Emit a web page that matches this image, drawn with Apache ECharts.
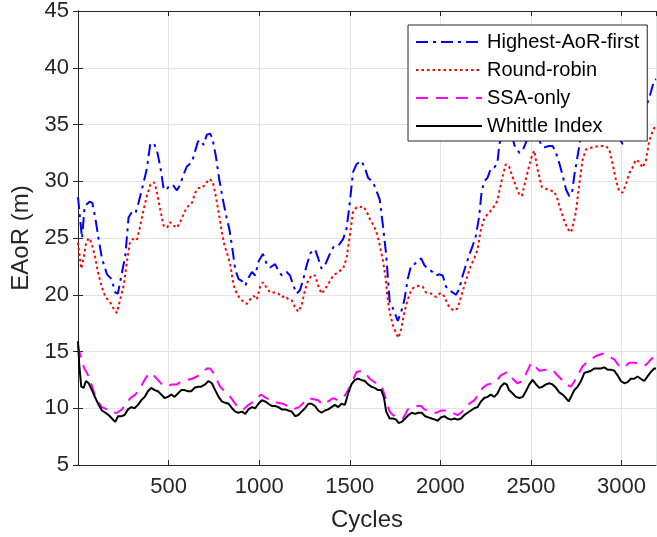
<!DOCTYPE html>
<html>
<head>
<meta charset="utf-8">
<script src="https://cdn.jsdelivr.net/npm/echarts@6/dist/echarts.min.js"></script>
<style>
html,body{margin:0;padding:0;background:#fff;}
#chart{width:657px;height:537px;}
</style>
</head>
<body>
<div id="chart"></div>
<script>
// Highest-AoR-first (blue, dash-dot)
var haorX = [0,22,37,64,79,95,114,132,160,184,206,220,243,261,279,294,316,334,353,380,398,417,436,454,472,485,509,527,546,564,583,601,629,647,662,680,693,711,730,743,761,779,803,820,835,850,868,886,905,923,941,960,978,996,1020,1042,1060,1088,1106,1125,1152,1170,1189,1207,1225,1244,1262,1284,1308,1326,1344,1363,1387,1409,1436,1463,1482,1500,1518,1537,1564,1583,1601,1628,1646,1665,1683,1701,1720,1738,1765,1784,1802,1820,1839,1857,1875,1894,1912,1930,1958,1976,1995,2013,2031,2049,2068,2086,2104,2123,2141,2159,2178,2196,2214,2227,2242,2260,2278,2297,2315,2324,2340,2365,2390,2408,2436,2454,2472,2495,2525,2555,2574,2601,2620,2638,2656,2675,2693,2711,2726,2739,2757,2770,2790,2830,2880,2920,2950,2980,3005,3024,3050,3080,3106,3125,3152,3180,3190];
var haorY = [28.6,25.0,27.8,28.2,28.1,26.8,24.9,23.2,21.8,21.4,20.2,20.1,22.0,23.4,26.8,27.2,27.1,28.1,29.3,31.1,33.2,33.4,32.7,31.3,29.4,29.2,29.7,29.6,29.2,29.7,30.6,31.3,31.7,32.7,33.5,33.6,33.2,34.1,34.2,33.7,32.2,30.2,28.1,26.8,25.8,24.3,22.2,21.4,21.2,20.8,21.5,22.0,21.7,22.9,23.6,22.7,22.4,22.7,22.1,21.7,22.0,21.7,20.8,20.1,20.4,21.4,22.6,23.7,24.0,23.2,22.3,22.6,23.5,24.2,24.3,24.9,25.8,28.1,30.8,31.5,31.8,31.2,30.3,29.9,29.2,28.4,26.1,23.5,19.4,18.8,17.7,18.5,19.6,21.4,22.6,22.7,23.0,23.2,22.6,22.3,22.0,21.7,21.8,21.7,20.7,20.4,20.2,20.0,20.5,21.7,22.6,23.5,24.3,25.2,26.9,29.0,30.0,30.3,31.1,31.2,31.6,33.1,34.2,35.0,34.5,33.2,32.5,32.7,33.4,34.6,34.8,33.2,33.0,33.1,33.1,32.5,31.6,30.5,29.3,28.7,28.9,30.5,32.2,33.4,35.3,36.4,36.8,36.6,35.5,34.0,33.3,33.4,34.5,35.5,35.2,36.2,37.3,38.9,39.0];

// Round-robin (red, dotted)
var rrX = [0,18,31,44,59,74,92,110,129,151,169,187,202,215,233,252,270,285,301,325,344,362,380,399,421,436,454,472,491,509,527,546,564,583,601,629,647,665,684,702,724,743,757,776,794,809,822,841,859,877,896,914,932,951,969,987,1005,1020,1038,1060,1088,1106,1125,1143,1161,1180,1198,1216,1234,1253,1271,1289,1308,1326,1344,1363,1387,1409,1436,1463,1482,1500,1518,1537,1555,1573,1592,1610,1628,1646,1665,1683,1698,1707,1720,1738,1756,1769,1784,1802,1820,1839,1857,1885,1903,1921,1949,1976,1995,2013,2031,2049,2073,2095,2114,2132,2150,2169,2187,2205,2224,2242,2260,2278,2297,2315,2324,2343,2361,2379,2398,2416,2434,2450,2472,2500,2518,2537,2560,2601,2629,2647,2665,2684,2702,2721,2730,2748,2767,2785,2803,2840,2877,2914,2932,2950,2969,2987,3005,3024,3042,3060,3079,3097,3115,3134,3152,3171,3190];
var rrY = [24.6,22.3,23.2,24.5,25.0,24.6,23.5,22.0,20.8,19.8,19.5,19.1,18.6,18.4,19.6,20.8,22.9,24.5,24.9,24.8,26.1,27.5,28.7,29.7,29.9,29.0,27.5,26.1,25.9,26.4,26.1,25.9,26.4,27.1,27.7,28.1,29.0,29.4,29.4,29.7,30.2,30.0,29.0,27.3,25.5,24.3,23.7,22.6,20.8,20.1,19.6,19.4,19.2,19.6,19.9,19.6,20.7,21.1,20.7,20.2,20.2,20.1,19.8,19.9,19.6,19.5,18.9,18.5,19.1,20.4,21.3,21.7,21.7,20.8,20.1,20.5,21.1,21.7,22.0,22.3,23.2,25.2,27.3,27.7,27.7,27.8,27.4,26.7,26.2,25.6,24.4,23.0,21.5,19.9,18.5,17.3,16.6,16.2,17.0,18.5,19.6,20.4,20.7,20.8,20.7,20.2,20.1,19.8,20.1,20.1,19.5,18.9,18.6,18.8,19.8,20.8,21.7,22.6,23.2,24.0,25.8,26.7,27.1,27.4,27.8,28.3,29.0,30.4,31.5,31.3,30.4,29.6,28.9,28.7,30.2,32.0,32.7,31.0,29.5,29.2,29.1,28.4,27.4,26.5,25.8,25.5,26.0,27.3,29.8,31.9,32.8,33.0,33.1,33.1,32.8,31.6,30.1,29.1,29.0,29.7,30.7,31.2,31.9,31.7,31.2,31.8,33.5,34.4,35.0];

// SSA-only (magenta, dashed)
var ssaX = [0,20,35,50,68,86,105,132,160,187,215,243,261,289,316,344,371,393,417,441,463,491,518,546,573,601,629,656,684,711,730,748,766,785,803,830,850,880,914,941,970,996,1009,1040,1079,1097,1130,1170,1189,1220,1253,1271,1300,1326,1350,1380,1409,1436,1465,1491,1509,1537,1564,1590,1610,1628,1646,1675,1695,1720,1738,1765,1793,1811,1820,1850,1875,1894,1912,1945,1976,2004,2013,2040,2068,2095,2114,2135,2159,2187,2210,2233,2260,2290,2315,2333,2370,2385,2399,2425,2454,2472,2495,2509,2528,2546,2583,2619,2640,2665,2693,2721,2748,2785,2812,2858,2895,2923,2960,2987,3015,3042,3079,3106,3134,3162,3190];
var ssaY = [15.5,14.2,13.5,13.1,12.4,11.5,10.7,10.1,9.9,9.6,9.6,9.9,10.3,10.9,11.2,11.8,12.6,13.1,12.9,12.5,12.1,11.9,12.1,12.1,12.4,12.5,12.6,12.8,13.1,13.5,13.5,13.1,12.5,11.9,11.6,11.2,10.8,10.1,9.9,10.3,10.6,11.0,11.2,10.9,10.6,10.5,10.4,10.1,9.9,10.1,10.6,10.9,10.8,10.7,10.3,10.6,10.9,10.7,10.9,11.6,12.2,13.2,13.3,13.0,12.6,12.4,12.2,12.0,11.0,9.7,9.4,9.2,9.1,9.6,9.9,10.1,10.2,10.2,9.9,9.7,9.6,9.8,9.9,9.8,9.6,9.4,9.6,10.0,10.4,10.7,11.2,11.8,12.1,12.2,12.5,12.9,13.2,12.9,12.6,12.2,12.4,13.0,13.8,14.0,13.6,13.3,13.4,13.4,13.0,12.6,12.1,11.9,12.6,13.7,14.1,14.6,14.8,14.6,14.3,13.7,13.6,14.0,14.0,13.8,13.8,14.3,14.7];

// Whittle Index (black, solid)
var wiX = [0,7,18,31,44,59,77,96,114,132,151,169,187,206,221,239,257,276,294,312,331,349,368,386,404,423,441,460,478,496,515,533,551,570,588,607,625,643,662,680,702,720,739,757,776,794,809,831,850,868,886,905,923,941,960,978,996,1015,1033,1051,1070,1088,1106,1125,1143,1161,1180,1198,1216,1234,1253,1271,1289,1308,1326,1344,1363,1381,1399,1418,1436,1454,1473,1491,1509,1528,1546,1564,1583,1601,1619,1637,1656,1674,1689,1701,1720,1738,1756,1769,1787,1806,1824,1842,1861,1879,1897,1916,1934,1952,1971,1985,2004,2022,2040,2059,2077,2095,2114,2132,2150,2169,2187,2205,2224,2242,2260,2278,2297,2315,2333,2352,2366,2379,2399,2417,2436,2454,2472,2491,2509,2528,2546,2564,2583,2601,2619,2638,2656,2675,2693,2708,2721,2739,2757,2776,2794,2812,2831,2849,2868,2886,2904,2923,2941,2960,2978,2996,3015,3033,3051,3070,3088,3106,3125,3143,3162,3180,3190];
var wiY = [15.9,13.8,11.9,11.8,12.4,12.2,11.6,10.9,10.3,9.8,9.6,9.4,9.1,8.8,9.3,9.3,9.4,9.9,10.1,10.0,10.3,10.7,11.0,11.5,11.8,11.6,11.5,11.2,10.9,11.0,11.2,11.0,11.3,11.6,11.6,11.5,11.5,11.8,11.9,11.9,12.1,12.4,12.2,11.6,11.0,10.6,10.5,10.4,10.0,9.7,9.6,9.7,9.5,9.9,10.1,10.0,10.4,10.7,10.6,10.4,10.2,10.2,10.1,9.9,9.9,9.8,9.7,9.3,9.4,9.7,10.0,10.4,10.4,10.2,9.8,9.6,9.8,9.9,10.1,10.3,10.1,10.4,10.3,11.3,12.1,12.5,12.6,12.5,12.4,12.1,11.9,11.8,11.6,11.6,10.9,9.7,9.1,9.1,9.0,8.7,8.8,9.1,9.4,9.6,9.5,9.6,9.6,9.3,9.2,9.1,9.0,8.9,9.2,9.3,9.1,9.0,9.1,9.0,9.1,9.4,9.6,9.8,10.0,10.1,10.6,10.9,11.0,11.2,11.0,11.3,11.9,12.2,12.1,11.6,11.3,11.0,10.9,11.0,11.5,12.1,12.5,12.1,11.8,11.9,12.1,12.2,12.1,11.8,11.4,11.2,10.9,10.6,11.0,11.6,11.9,12.4,13.1,13.2,13.3,13.5,13.5,13.5,13.6,13.4,13.4,13.3,12.9,12.4,12.2,12.3,12.6,12.6,12.8,12.6,12.4,12.8,13.2,13.5,13.5];

var seriesNames = ['Highest-AoR-first', 'Round-robin', 'SSA-only', 'Whittle Index'];
var yTicks = [5, 45, 5]; // min, max, step
var xRange = [0, 3190, 500];

function pairs(xs, ys) {
    var out = [];
    for (var i = 0; i < xs.length; i++) out.push([xs[i], ys[i]]);
    return out;
}

var axisColor = '#262626';
var gridColor = '#e3e3e3';
var fontFam = '"Liberation Sans", Arial, sans-serif';

var myChart = echarts.init(document.getElementById('chart'));

var option = {
    animation: false,
    backgroundColor: '#fff',
    textStyle: {fontFamily: fontFam},
    grid: {left: 78, right: 1, top: 8, bottom: 72},
    legend: {
        orient: 'vertical',
        left: 408,
        top: 25,
        padding: [7, 8, 5, 7],
        itemWidth: 66,
        itemHeight: 14,
        itemGap: 8,
        borderColor: axisColor,
        borderWidth: 1,
        backgroundColor: '#fff',
        itemStyle: {opacity: 0},   // hide the circle, keep the line sample
        textStyle: {color: '#000', fontSize: 20, fontFamily: fontFam},
        data: seriesNames
    },
    xAxis: [{
        type: 'value',
        min: xRange[0], max: xRange[1], interval: xRange[2],
        name: 'Cycles',
        nameLocation: 'middle',
        nameGap: 43,
        nameTextStyle: {color: axisColor, fontSize: 24},
        axisLine: {lineStyle: {color: axisColor, width: 1}},
        axisTick: {inside: true, length: 5, lineStyle: {color: axisColor}},
        axisLabel: {color: axisColor, fontSize: 22, margin: 11, showMinLabel: false, showMaxLabel: false,
            formatter: function (v) { return String(v); }},
        splitLine: {show: true, lineStyle: {color: gridColor, width: 1}}
    }, {
        type: 'value', position: 'top',
        min: xRange[0], max: xRange[1], interval: xRange[2],
        axisLine: {show: true, lineStyle: {color: axisColor, width: 1}},
        axisTick: {inside: true, length: 5, lineStyle: {color: axisColor}},
        axisLabel: {show: false},
        splitLine: {show: false}
    }],
    yAxis: [{
        type: 'value',
        min: yTicks[0], max: yTicks[1], interval: yTicks[2],
        name: 'EAoR (m)',
        nameLocation: 'middle',
        nameGap: 37,
        nameTextStyle: {color: axisColor, fontSize: 24},
        axisLine: {show: true, lineStyle: {color: axisColor, width: 1}},
        axisTick: {show: true, inside: true, length: 5, lineStyle: {color: axisColor}},
        axisLabel: {color: axisColor, fontSize: 22, margin: 9},
        splitLine: {show: true, lineStyle: {color: gridColor, width: 1}}
    }, {
        type: 'value', position: 'right',
        min: yTicks[0], max: yTicks[1], interval: yTicks[2],
        axisLine: {show: true, lineStyle: {color: axisColor, width: 1}},
        axisTick: {show: true, inside: true, length: 5, lineStyle: {color: axisColor}},
        axisLabel: {show: false},
        splitLine: {show: false}
    }],
    series: [{
        name: seriesNames[0], type: 'line', symbol: 'none',
        lineStyle: {color: '#0000ff', width: 2, type: [12, 5, 3, 5]},
        itemStyle: {color: '#0000ff'},
        data: pairs(haorX, haorY)
    }, {
        name: seriesNames[1], type: 'line', symbol: 'none',
        lineStyle: {color: '#ff0000', width: 2, type: [2.5, 3]},
        itemStyle: {color: '#ff0000'},
        data: pairs(rrX, rrY)
    }, {
        name: seriesNames[2], type: 'line', symbol: 'none',
        lineStyle: {color: '#ff00ff', width: 2, type: [12, 8]},
        itemStyle: {color: '#ff00ff'},
        data: pairs(ssaX, ssaY)
    }, {
        name: seriesNames[3], type: 'line', symbol: 'none',
        lineStyle: {color: '#000000', width: 2},
        itemStyle: {color: '#000000'},
        data: pairs(wiX, wiY)
    }]
};

myChart.setOption(option);
</script>
</body>
</html>
